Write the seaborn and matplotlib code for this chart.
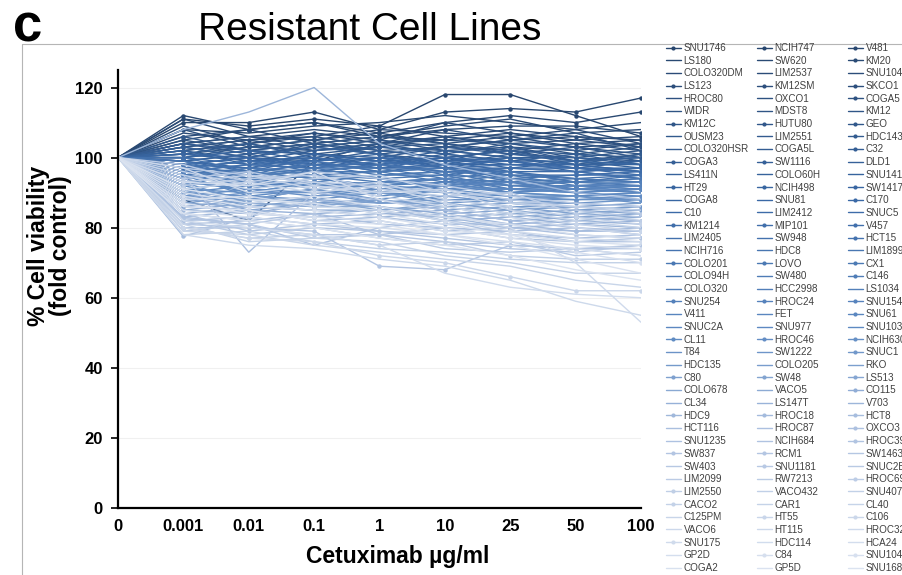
import matplotlib
matplotlib.use('Agg')
import matplotlib.pyplot as plt
import seaborn as sns
import pandas as pd
from matplotlib.colors import LinearSegmentedColormap
from matplotlib.lines import Line2D

DOSES = ['0', '0.001', '0.01', '0.1', '1', '10', '25', '50', '100']

# legend as printed, column by column (top to bottom)
LEGEND_COL1 = ['SNU1746', 'LS180', 'COLO320DM', 'LS123', 'HROC80', 'WIDR', 'KM12C', 'OUSM23',
               'COLO320HSR', 'COGA3', 'LS411N', 'HT29', 'COGA8', 'C10', 'KM1214', 'LIM2405',
               'NCIH716', 'COLO201', 'COLO94H', 'COLO320', 'SNU254', 'V411', 'SNUC2A', 'CL11',
               'T84', 'HDC135', 'C80', 'COLO678', 'CL34', 'HDC9', 'HCT116', 'SNU1235', 'SW837',
               'SW403', 'LIM2099', 'LIM2550', 'CACO2', 'C125PM', 'VACO6', 'SNU175', 'GP2D', 'COGA2']
LEGEND_COL2 = ['NCIH747', 'SW620', 'LIM2537', 'KM12SM', 'OXCO1', 'MDST8', 'HUTU80', 'LIM2551',
               'COGA5L', 'SW1116', 'COLO60H', 'NCIH498', 'SNU81', 'LIM2412', 'MIP101', 'SW948',
               'HDC8', 'LOVO', 'SW480', 'HCC2998', 'HROC24', 'FET', 'SNU977', 'HROC46', 'SW1222',
               'COLO205', 'SW48', 'VACO5', 'LS147T', 'HROC18', 'HROC87', 'NCIH684', 'RCM1',
               'SNU1181', 'RW7213', 'VACO432', 'CAR1', 'HT55', 'HT115', 'HDC114', 'C84', 'GP5D']
LEGEND_COL3 = ['V481', 'KM20', 'SNU1047', 'SKCO1', 'COGA5', 'KM12', 'GEO', 'HDC143', 'C32',
               'DLD1', 'SNU1411', 'SW1417', 'C170', 'SNUC5', 'V457', 'HCT15', 'LIM1899', 'CX1',
               'C146', 'LS1034', 'SNU1544', 'SNU61', 'SNU1033', 'NCIH630', 'SNUC1', 'RKO', 'LS513',
               'CO115', 'V703', 'HCT8', 'OXCO3', 'HROC39', 'SW1463', 'SNUC2B', 'HROC69', 'SNU407',
               'CL40', 'C106', 'HROC32', 'HCA24', 'SNU1040', 'SNU1684']

# series drawn with dot markers
MARKED = {'SNU1746', 'LS123', 'KM12C', 'COGA3', 'HT29', 'KM1214', 'COLO201', 'SNU254', 'CL11',
          'C80', 'HDC9', 'SW837', 'LIM2550', 'CACO2', 'SNU175',
          'NCIH747', 'KM12SM', 'HUTU80', 'SW1116', 'NCIH498', 'MIP101', 'LOVO', 'HROC24',
          'HROC46', 'SW48', 'HROC18', 'RCM1', 'SNU1181', 'HT55', 'C84',
          'V481', 'KM20', 'SKCO1', 'COGA5', 'GEO', 'HDC143', 'C32', 'SW1417', 'C170', 'V457',
          'HCT15', 'CX1', 'C146', 'SNU1544', 'SNU61', 'NCIH630', 'SNUC1', 'LS513', 'CO115',
          'HCT8', 'OXCO3', 'HROC39', 'HROC69', 'C106', 'SNU1040'}

CONTROL = 100
# viability at 0.001 .. 100 ug/ml, one row per cell line in legend reading order (row by row)
VIABILITY = [
    [111, 109, 111, 109, 118, 118, 112, 106],
    [110, 110, 113, 108, 113, 114, 113, 117],
    [112, 108, 110, 107, 110, 112, 110, 113],
    [108, 107, 109, 110, 112, 110, 108, 110],
    [111, 106, 108, 106, 109, 111, 107, 108],
    [105, 108, 110, 106, 108, 109, 109, 107],
    [107, 105, 106, 109, 106, 108, 106, 105],
    [109, 104, 107, 105, 110, 107, 105, 106],
    [104, 106, 105, 108, 107, 106, 108, 104],
    [106, 108, 104, 106, 105, 107, 104, 105],
    [103, 105, 107, 104, 108, 105, 106, 103],
    [108, 103, 105, 107, 104, 106, 103, 104],
    [88, 82, 99, 104, 106, 104, 105, 103],
    [104, 106, 103, 105, 103, 105, 107, 102],
    [102, 104, 106, 103, 106, 103, 102, 104],
    [105, 102, 104, 106, 104, 102, 104, 102],
    [103, 105, 102, 104, 105, 104, 101, 103],
    [101, 103, 105, 102, 103, 105, 103, 101],
    [104, 101, 103, 105, 102, 103, 100, 102],
    [102, 104, 101, 103, 104, 101, 103, 100],
    [106, 102, 104, 101, 103, 102, 99, 101],
    [100, 103, 102, 104, 101, 104, 102, 99],
    [103, 100, 104, 102, 100, 102, 101, 100],
    [101, 104, 100, 103, 102, 100, 98, 101],
    [104, 102, 101, 100, 103, 101, 100, 99],
    [99, 101, 103, 101, 99, 103, 99, 100],
    [102, 99, 102, 103, 101, 99, 101, 98],
    [103, 100, 99, 102, 100, 102, 98, 99],
    [100, 102, 101, 99, 102, 100, 100, 98],
    [98, 100, 103, 101, 98, 101, 99, 100],
    [101, 99, 100, 98, 101, 99, 99, 97],
    [99, 101, 98, 100, 99, 100, 97, 99],
    [102, 98, 101, 99, 100, 98, 98, 98],
    [100, 102, 99, 101, 97, 100, 98, 96],
    [97, 99, 100, 98, 100, 97, 99, 98],
    [101, 100, 97, 100, 99, 99, 96, 97],
    [99, 97, 101, 99, 98, 98, 98, 96],
    [98, 100, 98, 97, 100, 99, 97, 97],
    [100, 98, 99, 100, 97, 97, 97, 96],
    [97, 99, 98, 98, 99, 96, 96, 97],
    [99, 96, 100, 97, 98, 99, 97, 95],
    [96, 98, 97, 99, 97, 98, 97, 96],
    [98, 97, 99, 96, 98, 95, 95, 96],
    [97, 99, 96, 98, 96, 97, 96, 94],
    [100, 96, 98, 97, 97, 96, 94, 95],
    [96, 98, 97, 99, 95, 97, 96, 94],
    [98, 95, 99, 96, 97, 94, 95, 95],
    [95, 97, 96, 98, 96, 96, 93, 95],
    [97, 96, 98, 95, 96, 95, 94, 93],
    [99, 94, 97, 97, 94, 96, 93, 94],
    [94, 97, 95, 96, 97, 93, 94, 93],
    [96, 95, 97, 94, 95, 94, 93, 94],
    [98, 93, 96, 96, 93, 95, 92, 92],
    [95, 96, 94, 95, 96, 92, 93, 93],
    [97, 94, 95, 93, 94, 93, 93, 92],
    [93, 95, 96, 94, 92, 94, 91, 92],
    [96, 92, 93, 95, 95, 91, 92, 91],
    [94, 96, 94, 92, 93, 92, 91, 92],
    [95, 93, 95, 94, 91, 93, 90, 91],
    [92, 94, 92, 93, 94, 90, 91, 90],
    [96, 93, 92, 93, 94, 92, 92, 93],
    [93, 91, 94, 92, 94, 91, 92, 92],
    [95, 92, 93, 91, 92, 93, 91, 91],
    [92, 94, 91, 93, 92, 91, 91, 92],
    [94, 90, 93, 90, 93, 90, 92, 90],
    [91, 93, 92, 92, 91, 91, 90, 91],
    [93, 91, 90, 91, 92, 90, 89, 90],
    [90, 92, 92, 89, 91, 91, 90, 89],
    [95, 89, 91, 92, 90, 89, 89, 90],
    [91, 90, 93, 90, 89, 90, 89, 88],
    [89, 91, 89, 91, 90, 88, 88, 89],
    [92, 88, 91, 88, 91, 89, 88, 88],
    [90, 89, 88, 90, 88, 88, 89, 87],
    [88, 90, 90, 87, 89, 87, 87, 88],
    [93, 87, 89, 90, 87, 88, 87, 86],
    [89, 88, 91, 87, 88, 86, 86, 87],
    [87, 89, 87, 88, 86, 87, 85, 86],
    [91, 86, 88, 87, 87, 85, 86, 85],
    [88, 87, 86, 88, 85, 86, 84, 85],
    [86, 88, 88, 85, 87, 84, 85, 84],
    [90, 85, 87, 86, 84, 85, 83, 84],
    [87, 86, 85, 85, 86, 83, 84, 83],
    [85, 87, 86, 86, 83, 84, 82, 83],
    [89, 84, 87, 84, 85, 82, 83, 82],
    [86, 85, 84, 85, 82, 83, 81, 82],
    [84, 86, 85, 83, 84, 81, 82, 81],
    [108, 113, 120, 104, 98, 94, 90, 88],
    [85, 84, 83, 84, 83, 80, 81, 80],
    [83, 85, 82, 83, 81, 81, 79, 80],
    [77.5, 83, 88, 86, 82, 80, 79, 79],
    [84, 82, 84, 81, 80, 79, 80, 78],
    [95, 73, 90, 88, 85, 82, 80, 79],
    [82, 83, 81, 82, 79, 80, 78, 77],
    [83, 81, 75, 80, 82, 78, 77, 78],
    [81, 82, 80, 79, 78, 79, 76, 76],
    [82.6, 81, 84, 78, 80, 77, 76, 77],
    [80, 80, 79, 69, 68, 75, 74, 75],
    [84, 79, 81, 79, 77, 75, 74, 74],
    [97, 95, 93, 92, 90, 87, 85, 83],
    [81, 80, 78, 78, 76, 74, 73, 75],
    [94, 96, 92, 90, 91, 88, 86, 84],
    [82, 78, 80, 77, 75, 76, 72, 73],
    [98, 93, 96, 94, 92, 89, 87, 86],
    [79, 81, 77, 78, 74, 73, 74, 72],
    [92, 94, 95, 91, 89, 90, 84, 82],
    [80, 77, 78, 75, 76, 72, 71, 71],
    [96, 92, 94, 95, 90, 87, 86, 85],
    [78, 79, 76, 74, 73, 71, 70, 70],
    [93, 95, 91, 93, 88, 86, 83, 81],
    [81, 76, 77, 76, 72, 70, 67, 67],
    [95, 91, 93, 90, 91, 85, 82, 80],
    [79, 78, 75, 73, 71, 69, 65, 63],
    [91, 93, 90, 92, 87, 84, 81, 79],
    [80, 77, 76, 72, 70, 66, 62, 62],
    [97, 90, 92, 89, 86, 83, 80, 78],
    [78, 75, 74, 71, 69, 65, 59, 55],
    [93, 92, 96, 88, 84, 80, 70, 53],
    [88, 89, 86, 85, 82, 79, 77, 76],
    [82, 80, 78, 75, 67, 63, 61, 60],
    [90, 87, 89, 86, 83, 81, 78, 77],
    [85, 83, 81, 80, 78, 76, 74, 72],
    [89, 86, 85, 83, 80, 77, 75, 74],
    [87, 84, 83, 82, 79, 78, 73, 70],
    [91, 88, 87, 84, 81, 78, 76, 75],
    [86, 85, 82, 81, 78, 75, 71, 67],
    [84, 82, 80, 77, 75, 72, 68, 65],
]

# reading order of the legend (row by row) = shading order, dark -> light
CELL_LINES = [n for row in zip(LEGEND_COL1, LEGEND_COL2, LEGEND_COL3) for n in row]

rows = []
for name, vals in zip(CELL_LINES, VIABILITY):
    for pos, v in enumerate([CONTROL] + vals):
        rows.append({'line': name, 'pos': pos, 'value': v})
df = pd.DataFrame(rows)

sns.set_style('white')
plt.rcParams['font.family'] = ['Liberation Sans', 'DejaVu Sans']
plt.rcParams['text.color'] = 'black'
plt.rcParams['axes.labelcolor'] = 'black'
plt.rcParams['xtick.color'] = 'black'
plt.rcParams['ytick.color'] = 'black'

cmap = LinearSegmentedColormap.from_list(
    'blues', [(0.0, '#28466e'), (0.3, '#3a69a6'), (0.55, '#5f8bc3'),
              (0.72, '#aabfdf'), (1.0, '#dbe3f0')])
n = len(CELL_LINES)
palette = {name: cmap(i / (n - 1)) for i, name in enumerate(CELL_LINES)}

fig = plt.figure(figsize=(9.03, 5.75), dpi=100)
ax = fig.add_axes([118 / 903, 1 - 508 / 575, (641 - 118) / 903, (508 - 70) / 575])

for name in CELL_LINES:
    sub = df[df['line'] == name]
    sns.lineplot(data=sub, x='pos', y='value', color=palette[name], lw=1.0,
                 marker='o' if name in MARKED else None, markersize=3.2,
                 markeredgewidth=0, estimator=None, sort=False, ax=ax)

ax.set_xlim(0, len(DOSES) - 1)
ax.set_ylim(0, 125)
ax.set_xticks(range(len(DOSES)))
ax.set_xticklabels(DOSES)
ax.set_yticks(range(0, 121, 20))
ax.yaxis.grid(True, color='#f0f0f0', lw=0.8)
ax.set_axisbelow(True)
ax.tick_params(axis='y', length=5, width=1.2, labelsize=12, pad=6, left=True)
ax.tick_params(axis='x', length=0, labelsize=12, pad=8)
for lab in ax.get_xticklabels() + ax.get_yticklabels():
    lab.set_fontweight('bold')
for side in ['top', 'right']:
    ax.spines[side].set_visible(False)
for side in ['left', 'bottom']:
    ax.spines[side].set_color('black')
    ax.spines[side].set_linewidth(1.6)

ax.set_xlabel('Cetuximab µg/ml', fontsize=16.5, fontweight='bold', va='center')
ax.xaxis.set_label_coords((398 - 118) / 523, -(557 - 508) / 438)
ax.set_ylabel('% Cell viability\n(fold control)', fontsize=16.5, fontweight='bold', linespacing=0.95)
ax.yaxis.set_label_coords(-(118 - 72) / 523, (508 - 246) / 438)

# legend: three equally spaced columns, as printed (the last one runs off the panel edge)
for col, x0 in zip((LEGEND_COL1, LEGEND_COL2, LEGEND_COL3), (666, 757, 848)):
    handles = [Line2D([], [], color=palette[name], lw=1.0,
                      marker='o' if name in MARKED else None, ms=3, mew=0) for name in col]
    fig.legend(handles, col, ncol=1, loc='upper left', bbox_to_anchor=(x0 / 903, 1 - 43 / 575),
               frameon=False, fontsize=7.1, labelcolor='#404040', handlelength=1.5,
               handletextpad=0.3, labelspacing=0.272, borderpad=0, borderaxespad=0)

# panel frame, title and letter
frame_kw = dict(transform=fig.transFigure, color='#b5b5b5', lw=0.8)
fig.add_artist(Line2D([22 / 903, 1], [1 - 44 / 575, 1 - 44 / 575], **frame_kw))
fig.add_artist(Line2D([22 / 903, 22 / 903], [0, 1 - 44 / 575], **frame_kw))
fig.text(370 / 903, 1 - 40 / 575, 'Resistant Cell Lines', ha='center', va='baseline', fontsize=28)
fig.text(13 / 903, 1 - 42 / 575, 'c', ha='left', va='baseline', fontsize=38, fontweight='bold')

fig.savefig('out.png', dpi=100)
